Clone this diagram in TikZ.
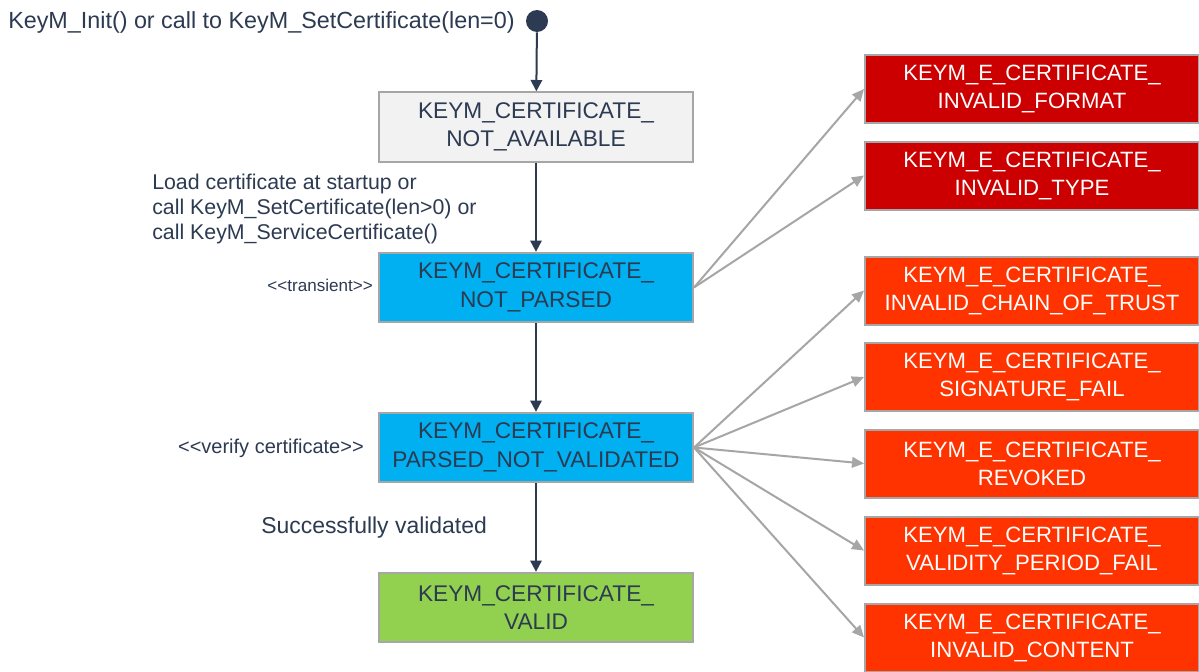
\documentclass[tikz,border=0pt]{standalone}
\usepackage{fontspec}
\setmainfont{Liberation Sans}
\usetikzlibrary{arrows.meta}
\definecolor{ink}{RGB}{44,58,82}
\definecolor{rim}{RGB}{166,166,166}
\definecolor{idlegray}{RGB}{242,242,242}
\definecolor{parsedblue}{RGB}{0,176,240}
\definecolor{validgreen}{RGB}{146,208,80}
\definecolor{formatred}{RGB}{204,0,0}
\definecolor{checkred}{RGB}{255,51,0}
\begin{document}
\begin{tikzpicture}[x=0.75pt,y=-0.75pt,
  state/.style={draw=rim,line width=1.5pt,minimum width=235.5pt,minimum height=52pt,align=center,text=ink,font=\fontsize{17pt}{21.5pt}\selectfont},
  errstate/.style={state,minimum width=250.5pt,minimum height=51pt,text=white,font=\fontsize{16.6pt}{21pt}\selectfont},
  lbl/.style={text=ink,inner sep=0pt},
  flowarrow/.style={ink,line width=1.5pt,-{Triangle[width=8.5pt,length=8.5pt]}},
  failarrow/.style={rim,line width=1.5pt,-{Triangle[width=8pt,length=9pt]}}]
\clip (0,0) rectangle (1199,671);
\fill[white] (0,0) rectangle (1199,671);
% start point
\node[circle,fill=ink,minimum size=16.5pt,inner sep=0pt] (start) at (537,21) {};
\node[lbl,anchor=west,font=\fontsize{17.5pt}{21pt}\selectfont] (initlbl) at (8,22) {KeyM\_Init() or call to KeyM\_SetCertificate(len=0)};
% states
\node[state,fill=idlegray] (na) at (536,127) {KEYM\_CERTIFICATE\_\\NOT\_AVAILABLE};
\node[state,fill=parsedblue] (np) at (536,287.5) {KEYM\_CERTIFICATE\_\\NOT\_PARSED};
\node[state,fill=parsedblue] (pnv) at (536,447.5) {KEYM\_CERTIFICATE\_\\PARSED\_NOT\_VALIDATED};
\node[state,fill=validgreen] (valid) at (536,607.5) {KEYM\_CERTIFICATE\_\\VALID};
% error results
\node[errstate,fill=formatred] (fmt) at (1032,89) {KEYM\_E\_CERTIFICATE\_\\INVALID\_FORMAT};
\node[errstate,fill=formatred] (typ) at (1032,175.5) {KEYM\_E\_CERTIFICATE\_\\INVALID\_TYPE};
\node[errstate,fill=checkred] (chain) at (1032,290.5) {KEYM\_E\_CERTIFICATE\_\\INVALID\_CHAIN\_OF\_TRUST};
\node[errstate,fill=checkred] (sig) at (1032,377) {KEYM\_E\_CERTIFICATE\_\\SIGNATURE\_FAIL};
\node[errstate,fill=checkred] (rev) at (1032,463.5) {KEYM\_E\_CERTIFICATE\_\\REVOKED};
\node[errstate,fill=checkred] (period) at (1032,550.5) {KEYM\_E\_CERTIFICATE\_\\VALIDITY\_PERIOD\_FAIL};
\node[errstate,fill=checkred] (content) at (1032,637.5) {KEYM\_E\_CERTIFICATE\_\\INVALID\_CONTENT};
% labels
\node[lbl,anchor=west,align=left,font=\fontsize{16pt}{19.1pt}\selectfont] (loadlbl) at (152,209) {Load certificate at startup or\\call KeyM\_SetCertificate(len>0) or\\call KeyM\_ServiceCertificate()};
\node[lbl,anchor=east,font=\fontsize{12.8pt}{15pt}\selectfont] (translbl) at (373,285) {<{}<transient>{}>};
\node[lbl,anchor=east,font=\fontsize{15pt}{18pt}\selectfont] (verifylbl) at (364,448) {<{}<verify certificate>{}>};
\node[lbl,anchor=west,font=\fontsize{17.2pt}{21pt}\selectfont] (oklbl) at (261,528) {Successfully validated};
% transitions
\draw[flowarrow] (start) -- (na);
\draw[flowarrow] (na) -- (np);
\draw[flowarrow] (np) -- (pnv);
\draw[flowarrow] (pnv) -- (valid);
\draw[failarrow] (np.east) -- (fmt.west);
\draw[failarrow] (np.east) -- (typ.west);
\draw[failarrow] (pnv.east) -- (chain.west);
\draw[failarrow] (pnv.east) -- (sig.west);
\draw[failarrow] (pnv.east) -- (rev.west);
\draw[failarrow] (pnv.east) -- (period.west);
\draw[failarrow] (pnv.east) -- (content.west);
\end{tikzpicture}
\end{document}
